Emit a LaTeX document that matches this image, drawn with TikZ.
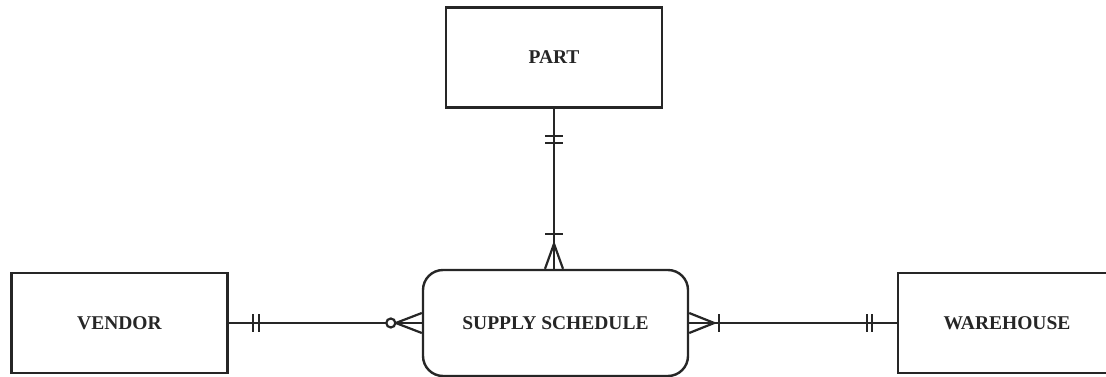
\documentclass[tikz,border=0pt]{standalone}
\usepackage{fontspec}
\setmainfont{Liberation Serif}
\usetikzlibrary{calc,positioning}

\begin{document}
\begin{tikzpicture}[x=1pt, y=-1pt,
  ent/.style   = {draw=black!85, fill=white, line width=2.4pt,
                  minimum width=216pt, minimum height=100pt, inner sep=0pt,
                  text=black!85, font=\fontsize{19.5}{22}\selectfont\bfseries},
  assoc/.style = {ent, rounded corners=20pt,
                  minimum width=265pt, minimum height=106pt},
  rel/.style   = {line width=2.2pt, draw=black!85},
  tick/.style  = {line width=2.2pt, draw=black!85},
]
\clip (0,0) rectangle (1106,377);
\node[ent] (part) at (554,57.5) {PART};
\node[assoc] (sched) at (555.5,323) {SUPPLY SCHEDULE};
\node[ent] (vendor) at (119.5,323) {VENDOR};
\node[ent, minimum width=218pt] (wareh) at (1007,323) {WAREHOUSE};
\coordinate (pin) at (part.south |- sched.north);
% PART -- SUPPLY SCHEDULE: one and only one / one or many
\draw[rel] (part.south) -- (pin);
\foreach \d in {27,34}
  \draw[tick] ($(part.south)+(-9,\d)$) -- ($(part.south)+(9,\d)$);
\draw[tick] ($(pin)+(-9,-35)$) -- ($(pin)+(9,-35)$);
\draw[tick] ($(pin)+(-9,0)$) -- ($(pin)+(0,-25)$) -- ($(pin)+(9,0)$);
% VENDOR -- SUPPLY SCHEDULE: one and only one / zero or many
\draw[rel] (vendor.east) -- (sched.west);
\foreach \d in {24,30}
  \draw[tick] ($(vendor.east)+(\d,-9)$) -- ($(vendor.east)+(\d,9)$);
\draw[tick] ($(sched.west)+(0,-10)$) -- ($(sched.west)+(-26,0)$) -- ($(sched.west)+(0,10)$);
\draw[tick, fill=white] ($(sched.west)+(-31,0)$) circle (4.5pt);
% SUPPLY SCHEDULE -- WAREHOUSE: one or many / one and only one
\draw[rel] (sched.east) -- (wareh.west);
\draw[tick] ($(sched.east)+(0,-10)$) -- ($(sched.east)+(25,0)$) -- ($(sched.east)+(0,10)$);
\draw[tick] ($(sched.east)+(30,-9)$) -- ($(sched.east)+(30,9)$);
\foreach \d in {25,30}
  \draw[tick] ($(wareh.west)+(-\d,-9)$) -- ($(wareh.west)+(-\d,9)$);
\end{tikzpicture}
\end{document}
